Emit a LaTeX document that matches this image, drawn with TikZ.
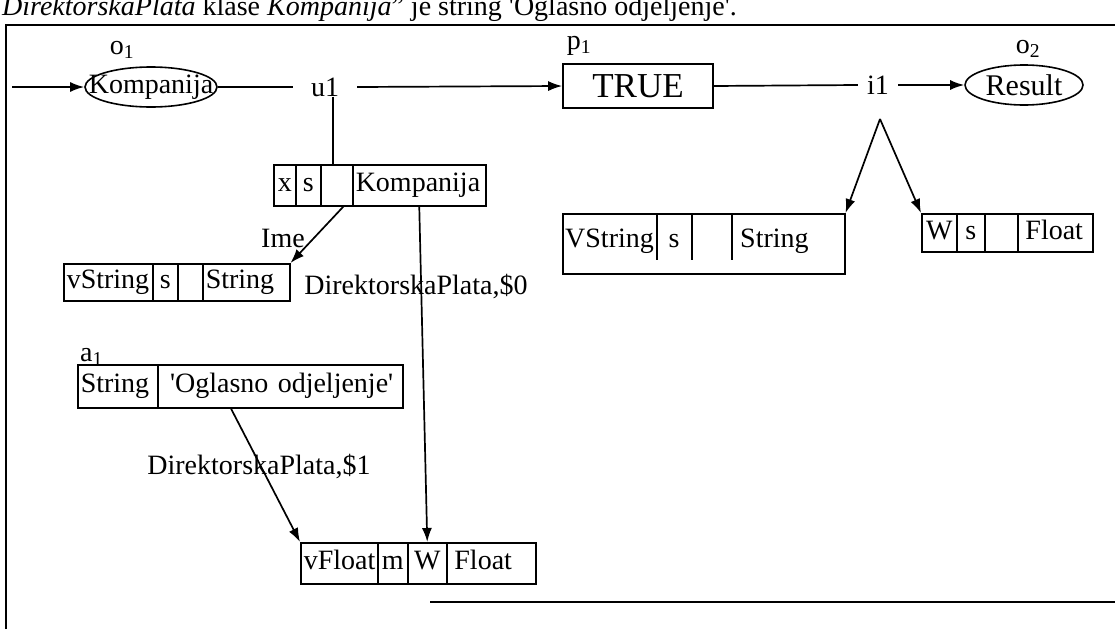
\documentclass[tikz,border=0pt]{standalone}
\usepackage{fontspec}
\setmainfont{Liberation Serif}
\usetikzlibrary{arrows.meta,shapes.geometric,calc}
\newcommand{\q}{\textquotesingle}
\tikzset{
  conn/.style={line width=1.7pt},
  arr/.style={conn,-{Latex[length=14pt,width=10pt]}},
  cell/.style={draw,line width=1.5pt,inner sep=0pt,anchor=north west,
    text height=19pt,text depth=6pt,font=\fontsize{28}{28}\selectfont},
  lcell/.style={cell,inner xsep=3pt,align=left},
  lbl/.style={inner sep=0pt,font=\fontsize{28}{28}\selectfont},
  oval/.style={ellipse,draw,line width=1.6pt,inner sep=0pt},
  frameline/.style={line width=1.9pt}
}
\begin{document}
\begin{tikzpicture}[x=1pt,y=-1pt]
\useasboundingbox (0,0) rectangle (1115,629);
\clip (0,0) rectangle (1115,629);
% caption (cut at the top)
\node[anchor=base west,inner sep=0pt,font=\fontsize{28}{28}\selectfont] (cap) at (2,15)
  {\textit{DirektorskaPlata} klase \textit{Kompanija}" je string \q Oglasno odjeljenje\q.};
% frame
\draw[frameline] (6,629) -- (6,25) -- (1115,25);
\draw[frameline] (430,602) -- (1115,602);
% main row
\coordinate (in) at (12,87);
\node[oval,minimum width=132pt,minimum height=40pt] (komp) at (151,87) {};
\node[lbl,font=\fontsize{28}{28}\selectfont] (kompt) at (komp.center) {Kompanija};
\node[lbl] (o1) at (122,50) {o\textsubscript{1}};
\node[lbl,inner xsep=18pt] (u1) at (325,87) {u1};
\node[draw,line width=1.6pt,minimum width=150pt,minimum height=44pt,inner sep=0pt,font=\fontsize{35}{35}\selectfont] (true) at (638,86) {TRUE};
\node[lbl] (p1) at (579,46) {p\textsubscript{1}};
\node[lbl,inner xsep=9pt] (i1) at (878,85) {i1};
\node[oval,minimum width=118pt,minimum height=40pt] (res) at (1024,85) {};
\node[lbl,font=\fontsize{30}{30}\selectfont] (rest) at (res.center) {Result};
\node[lbl] (o2) at (1028,49) {o\textsubscript{2}};
\draw[arr] (in) -- (komp.west);
\draw[conn] (komp.east) -- (u1.west);
\draw[arr] (u1.east) -- (true.west);
\draw[conn] (true.east) -- (i1.west);
\draw[arr] (i1.east) -- (res.west);
% x s Kompanija record
\node[cell,minimum width=22pt,minimum height=41pt] (xs1) at (273,164) {x};
\node[cell,minimum width=25pt,minimum height=41pt] (xs2) at (295,164) {s};
\node[cell,minimum width=32pt,minimum height=41pt] (xs3) at (320,164) {};
\node[lcell,text width=127pt,minimum height=41pt] (xs4) at (352,164) {Kompanija};
\draw[conn] ([xshift=8pt]u1.south) -- ([xshift=8pt]u1.south |- xs3.north);
% vString record
\node[lcell,text width=83pt,minimum height=37pt] (vs1) at (63,263) {vString};
\node[cell,minimum width=25pt,minimum height=37pt] (vs2) at (152,263) {s};
\node[cell,minimum width=25pt,minimum height=37pt] (vs3) at (177,263) {};
\node[lcell,text width=81pt,minimum height=37pt] (vs4) at (202,263) {String};
\draw[arr] ($(xs3.south west)!0.7!(xs3.south east)$) -- (vs4.north east);
\node[lbl] (ime) at (283,238) {Ime};
% a1 record
\node[lbl,anchor=base west] (a1) at (80,361) {a\textsubscript{1}};
\node[lcell,text width=74pt,minimum height=43pt] (a1c1) at (77,364) {String};
\node[lcell,text width=239pt,minimum height=43pt] (a1c2) at (157,364) {\ \q Oglasno odjeljenje\q};
% vFloat record
\node[lcell,text width=71pt,minimum height=41pt] (vf1) at (300,542) {vFloat};
\node[cell,minimum width=30pt,minimum height=41pt] (vf2) at (377,542) {m};
\node[cell,minimum width=39pt,minimum height=41pt] (vf3) at (407,542) {W};
\node[lcell,text width=83pt,minimum height=41pt] (vf4) at (446,542) {\,Float};
\draw[arr] (xs4.south) -- (vf3.north);
\node[lbl] (dp0) at (416,287) {DirektorskaPlata,\$0};
\draw[arr] ($(a1c2.south west)!0.3!(a1c2.south east)$) -- (vf1.north west);
\node[lbl] (dp1) at (259,467) {DirektorskaPlata,\$1};
% VString record (right)
\node[draw,line width=1.5pt,anchor=north west,minimum width=282pt,minimum height=60pt,inner sep=0pt] (vsr) at (562,213) {};
\draw[line width=1.5pt] (657,213) -- (657,260);
\draw[line width=1.5pt] (692,213) -- (692,260);
\draw[line width=1.5pt] (732,213) -- (732,260);
\node[lbl,anchor=base west] (vsr1) at (565,247) {VString};
\node[lbl,anchor=base] (vsr2) at (674,247) {s};
\node[lbl,anchor=base west] (vsr4) at (740,247) {String};
% W record
\node[cell,minimum width=35pt,minimum height=38pt] (w1) at (921,213) {W};
\node[cell,minimum width=28pt,minimum height=38pt] (w2) at (956,213) {s};
\node[cell,minimum width=33pt,minimum height=38pt] (w3) at (984,213) {};
\node[lcell,text width=69pt,minimum height=38pt] (w4) at (1017,213) {\,Float};
% fork from i1
\coordinate (fork) at (880,119);
\draw[arr] (fork) -- (vsr.north east);
\draw[arr] (fork) -- (w1.north west);
\end{tikzpicture}
\end{document}
